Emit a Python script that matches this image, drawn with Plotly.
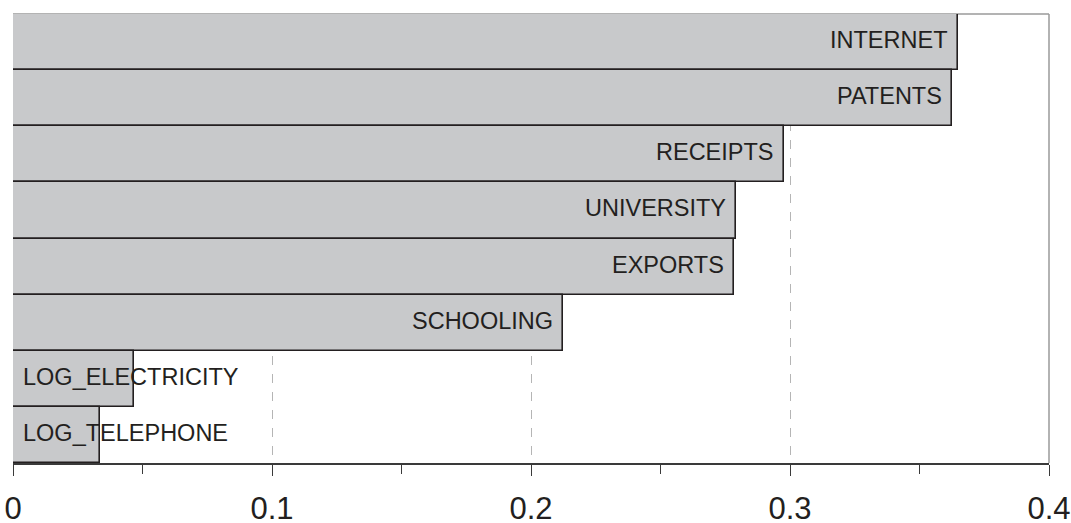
import plotly.graph_objects as go

categories = ["INTERNET", "PATENTS", "RECEIPTS", "UNIVERSITY", "EXPORTS",
              "SCHOOLING", "LOG_ELECTRICITY", "LOG_TELEPHONE"]
values = [0.3650, 0.3627, 0.2975, 0.2790, 0.2783, 0.2124, 0.0468, 0.0336]
tick_vals = [0, 0.1, 0.2, 0.3, 0.4]
tick_text = ["0", "0.1", "0.2", "0.3", "0.4"]

FONT = "Liberation Sans, Arial, sans-serif"
DARK = "#231f20"

fig = go.Figure()
fig.add_trace(go.Bar(
    x=values, y=categories, orientation="h",
    marker=dict(color="#c8c9cb", line=dict(color=DARK, width=1.6)),
    hoverinfo="x+y",
))

annotations = []
for c, v in zip(categories, values):
    if v > 0.1:
        annotations.append(dict(x=v, y=c, xref="x", yref="y", text=c,
                                showarrow=False, xanchor="right", xshift=-8,
                                yshift=2,
                                font=dict(family=FONT, size=23.5, color=DARK)))
    else:
        annotations.append(dict(x=0, y=c, xref="x", yref="y", text=c,
                                showarrow=False, xanchor="left", xshift=8,
                                yshift=2,
                                font=dict(family=FONT, size=23.5, color=DARK)))

fig.update_layout(
    width=1071, height=523,
    margin=dict(l=13, r=22, t=14, b=60, autoexpand=False),
    paper_bgcolor="white", plot_bgcolor="white",
    bargap=0, showlegend=False,
    annotations=annotations,
    shapes=[
        dict(type="line", xref="paper", yref="paper", x0=0, x1=1, y0=1, y1=1,
             line=dict(color="#9a9a9a", width=1.5), layer="below"),
        dict(type="line", xref="paper", yref="paper", x0=1, x1=1, y0=0, y1=1,
             line=dict(color="#9a9a9a", width=1.5), layer="below"),
    ],
    xaxis=dict(
        range=[0, 0.4], tickvals=tick_vals, ticktext=tick_text,
        showgrid=True, gridcolor="#b5b5b5", griddash="dash", gridwidth=1,
        showline=True, linecolor="#3a3a3a", linewidth=1.5,
        ticks="outside", ticklen=11, tickcolor="#3a3a3a", tickwidth=1.2,
        minor=dict(dtick=0.05, ticks="outside", ticklen=9,
                   tickcolor="#3a3a3a", tickwidth=1.2, showgrid=False),
        tickfont=dict(family=FONT, size=31, color=DARK),
        ticklabelstandoff=6, ticklabeloverflow="allow",
        zeroline=False, fixedrange=True, automargin=False,
    ),
    yaxis=dict(
        autorange="reversed", showticklabels=False, ticks="",
        showgrid=False, zeroline=False, showline=False, fixedrange=True,
        automargin=False,
    ),
)

fig.write_html(
    "out.html",
    config={"displayModeBar": False},
    post_script="document.body.style.margin='0';document.body.style.overflow='hidden';",
)
